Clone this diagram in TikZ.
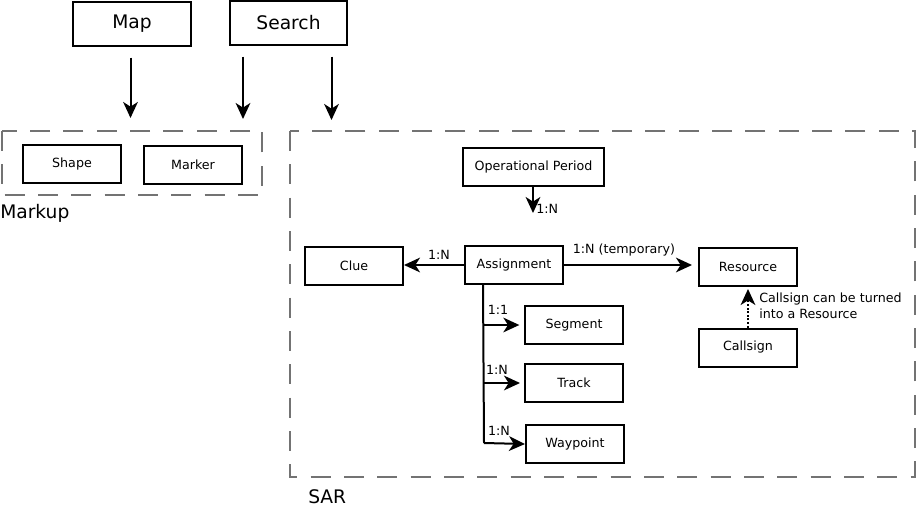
\documentclass[tikz,border=0pt]{standalone}
\usepackage{fontspec}
\setmainfont{DejaVu Sans}
\usepackage{tikz}
\usetikzlibrary{arrows.meta}

\begin{document}
\begin{tikzpicture}[x=0.75pt,y=-0.75pt,
  box/.style={draw,line width=1.5pt,minimum width=73.5pt,minimum height=28.5pt,inner sep=0pt,font=\fontsize{9.5}{11}\selectfont},
  bigbox/.style={box,minimum width=88pt,minimum height=33pt,font=\fontsize{14}{16}\selectfont},
  group/.style={draw=black!55,line width=1pt,dash pattern=on 15pt off 10pt},
  arr/.style={line width=1.5pt,-{Stealth[length=12pt,width=11pt,inset=3.5pt]}},
  lbl/.style={font=\fontsize{9.5}{12}\selectfont,inner sep=0pt}]
\useasboundingbox (0,0) rectangle (916,506);

% groups
\draw[group] (2,131) rectangle (262,195);
\draw[group] (290,131) rectangle (915,477);
\node[anchor=west,inner sep=0pt,font=\fontsize{14}{16}\selectfont] (markup) at (0,213) {Markup};
\node[anchor=west,inner sep=0pt,font=\fontsize{14}{16}\selectfont] (sar) at (308,496.5) {SAR};

% top
\node[bigbox] (map) at (132,24) {Map};
\node[bigbox] (search) at (288.5,23) {Search};
\coordinate (mapend) at (130.5,118);
\coordinate (srchA) at (243,119);
\coordinate (srchB) at (331.5,120);
\draw[arr,shorten <=8pt] (map.south -| mapend) -- (mapend);
\draw[arr,shorten <=8pt] (search.south -| srchA) -- (srchA);
\draw[arr,shorten <=8pt] (search.south -| srchB) -- (srchB);

% markup
\node[box] (shape) at (72,164) {Shape};
\node[box] (marker) at (193,165) {Marker};

% SAR
\node[box,minimum width=105.75pt] (op) at (533.5,167) {Operational Period};
\node[box] (asg) at (514,265) {Assignment};
\node[box] (clue) at (354,266) {Clue};
\node[box] (res) at (748,267) {Resource};
\node[box] (call) at (748,347.5) {Callsign};
\node[box] (seg) at (574,325) {Segment};
\node[box] (track) at (574,383) {Track};
\node[box] (wpt) at (575,444) {Waypoint};

\coordinate (opend) at (533,213);
\draw[arr] (op.south -| opend) -- (opend);
\node[lbl,anchor=west] at (536,209) {1:N};
\draw[arr] (asg.west) -- (asg.west -| clue.east);
\node[lbl] at (439,255) {1:N};
\draw[arr,shorten >=4.5pt] (asg.east) -- (asg.east -| res.west);
\node[lbl] at (624,250) {1:N (temporary)};
\draw[arr,dash pattern=on 1.5pt off 1.2pt,shorten >=1.5pt] (call.north) -- (res.south);
\node[lbl,anchor=north west,align=left] at (759,293) {Callsign can be turned\\into a Resource};

% trunk
\coordinate (trunk) at (484,443);
\draw[line width=1.5pt] (asg.south -| 483,0) -- (trunk);
\draw[arr,shorten >=3.5pt] (seg.west -| trunk) -- (seg.west);
\node[lbl] at (498,310) {1:1};
\draw[arr,shorten >=3pt] (track.west -| trunk) -- (track.west);
\node[lbl] at (497,370) {1:N};
\draw[arr] (trunk) -- (wpt.west);
\node[lbl] at (499,431) {1:N};
\end{tikzpicture}
\end{document}
